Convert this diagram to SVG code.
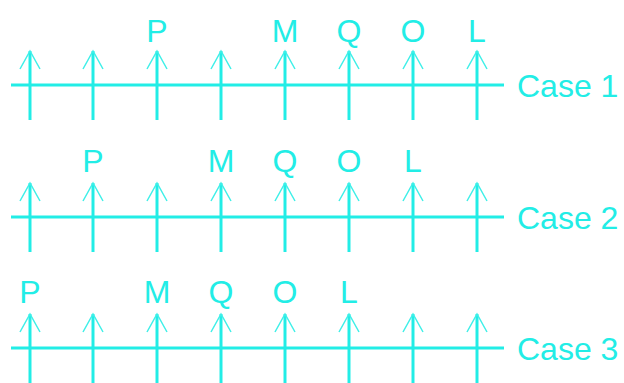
<svg xmlns="http://www.w3.org/2000/svg" width="624" height="383" viewBox="0 0 624 383">
<defs>
<style>
.ln{stroke:#22EDE6;stroke-width:3;fill:none}
.ah{stroke:#3FEFE8;stroke-width:1.5;fill:none}
.lb{font-family:"Liberation Sans",Arial,sans-serif;font-size:32px;fill:#22EDE6;text-anchor:middle}
.cs{font-family:"Liberation Sans",Arial,sans-serif;font-size:32px;fill:#22EDE6}
</style>
<g id="tick">
<line class="ln" x1="0" y1="-34" x2="0" y2="35"/>
<polyline class="ah" points="-10,-16 0,-34 10,-16"/>
</g>
</defs>
<rect width="624" height="383" fill="#ffffff"/>
<g id="connectors">
<line class="ln" x1="11" y1="85" x2="504" y2="85"/>
<line class="ln" x1="11" y1="217" x2="504" y2="217"/>
<line class="ln" x1="11" y1="348" x2="504" y2="348"/>
<g transform="translate(0,85)">
<use href="#tick" x="30"/><use href="#tick" x="93"/><use href="#tick" x="157"/><use href="#tick" x="221"/><use href="#tick" x="285"/><use href="#tick" x="349"/><use href="#tick" x="413"/><use href="#tick" x="477"/>
</g>
<g transform="translate(0,217)">
<use href="#tick" x="30"/><use href="#tick" x="93"/><use href="#tick" x="157"/><use href="#tick" x="221"/><use href="#tick" x="285"/><use href="#tick" x="349"/><use href="#tick" x="413"/><use href="#tick" x="477"/>
</g>
<g transform="translate(0,348)">
<use href="#tick" x="30"/><use href="#tick" x="93"/><use href="#tick" x="157"/><use href="#tick" x="221"/><use href="#tick" x="285"/><use href="#tick" x="349"/><use href="#tick" x="413"/><use href="#tick" x="477"/>
</g>
</g>
<g id="case1">
<text class="lb" x="157" y="42">P</text>
<text class="lb" x="285" y="42">M</text>
<text class="lb" x="349" y="42">Q</text>
<text class="lb" x="413" y="42">O</text>
<text class="lb" x="477" y="42">L</text>
<text class="cs" x="517" y="97">Case 1</text>
</g>
<g id="case2">
<text class="lb" x="93" y="172">P</text>
<text class="lb" x="221" y="172">M</text>
<text class="lb" x="285" y="172">Q</text>
<text class="lb" x="349" y="172">O</text>
<text class="lb" x="413" y="172">L</text>
<text class="cs" x="517" y="229">Case 2</text>
</g>
<g id="case3">
<text class="lb" x="30" y="303">P</text>
<text class="lb" x="157" y="303">M</text>
<text class="lb" x="221" y="303">Q</text>
<text class="lb" x="285" y="303">O</text>
<text class="lb" x="349" y="303">L</text>
<text class="cs" x="517" y="360">Case 3</text>
</g>
</svg>
